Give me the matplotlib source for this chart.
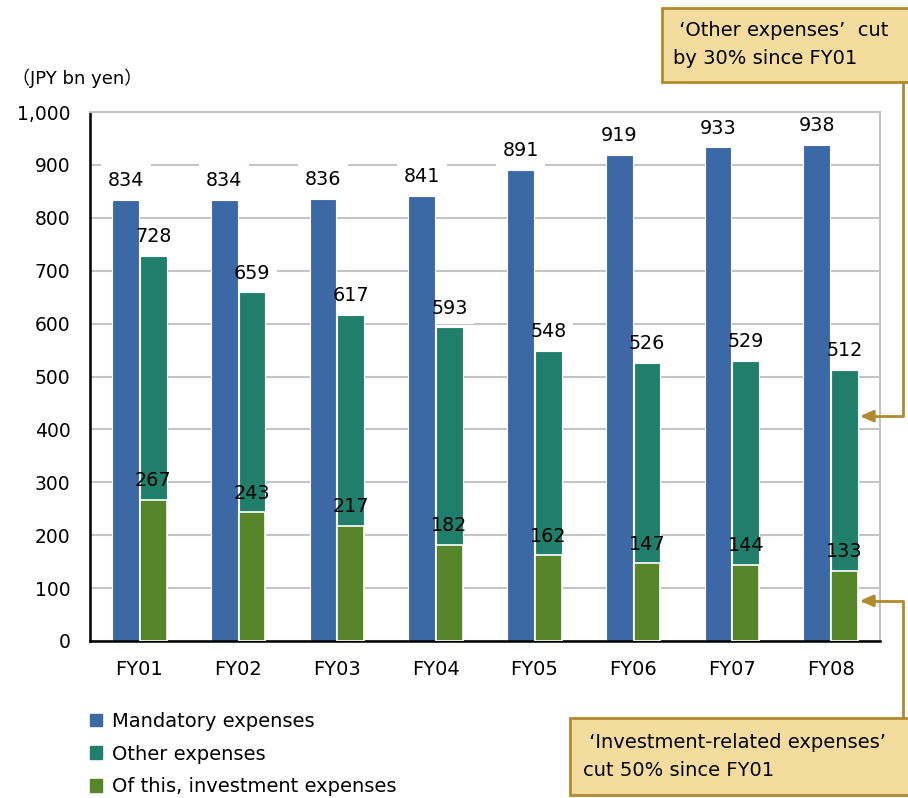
import matplotlib
matplotlib.use("Agg")
import matplotlib.pyplot as plt
import numpy as np
from matplotlib.patches import Patch, Rectangle

plt.rcParams['font.family'] = ['DejaVu Sans', 'Noto Sans CJK JP']

# data (JPY bn)
years = ["FY01", "FY02", "FY03", "FY04", "FY05", "FY06", "FY07", "FY08"]
mandatory = [834, 834, 836, 841, 891, 919, 933, 938]
other = [728, 659, 617, 593, 548, 526, 529, 512]
investment = [267, 243, 217, 182, 162, 147, 144, 133]

c_blue = "#3D68A6"
c_teal = "#1F7F6B"
c_green = "#57852A"
c_box = "#F3DC9E"
c_gold = "#B08A2E"

W, H = 908, 798
fig = plt.figure(figsize=(W / 100, H / 100), dpi=100)
ax = fig.add_axes([90 / W, 1 - 641 / H, 790 / W, 529 / H])

x = np.arange(len(years))
w = 0.27
off = 0.14

ax.bar(x - off, mandatory, w, color=c_blue, edgecolor="white", linewidth=0.8, zorder=2)
ax.bar(x + off, other, w, color=c_teal, edgecolor="white", linewidth=0.8, zorder=2)
ax.bar(x + off, investment, w, color=c_green, edgecolor="white", linewidth=1.2, zorder=3)

lab = dict(fontsize=13.8, ha="center", va="bottom", textcoords="offset points", xytext=(0, 7))
box = dict(facecolor="white", edgecolor="none", boxstyle="square,pad=0.35")
for i in range(len(years)):
    for xx, v in ((x[i] - off, mandatory[i]), (x[i] + off, other[i])):
        # white backing behind the label (under the bars), then the label on top
        ax.annotate(str(v), (xx, v), color="none", bbox=box, zorder=1.5, **lab)
        ax.annotate(str(v), (xx, v), zorder=5, **lab)
    ax.annotate(str(investment[i]), (x[i] + off, investment[i]), zorder=5, **lab)

ax.set_xlim(-0.5, len(years) - 0.5)
ax.set_ylim(0, 1000)
ax.set_yticks(range(0, 1001, 100))
ax.set_yticklabels([f"{v:,}" for v in range(0, 1001, 100)], fontsize=13.5)
ax.set_xticks(x)
ax.set_xticklabels(years, fontsize=14)
ax.tick_params(length=0)
ax.tick_params(axis="y", pad=14)
ax.tick_params(axis="x", pad=14)

ax.yaxis.grid(True, color="#C4C4C4", linewidth=1.5)
ax.set_axisbelow(True)
ax.spines["left"].set_linewidth(1.8)
ax.spines["bottom"].set_linewidth(1.8)
for s in ("right", "top"):
    ax.spines[s].set_color("#C4C4C4")
    ax.spines[s].set_linewidth(1.5)

fig.text(12 / W, 1 - 78 / H, "（JPY bn yen）", fontsize=13, va="center", ha="left")

# legend
handles = [Patch(color=c_blue), Patch(color=c_teal), Patch(color=c_green)]
labels = ["Mandatory expenses", "Other expenses", "Of this, investment expenses"]
fig.legend(handles, labels, loc="upper left", bbox_to_anchor=(90 / W, 1 - 712 / H),
           frameon=False, fontsize=14, handlelength=0.62, handleheight=0.62,
           handletextpad=0.5, labelspacing=0.7, borderaxespad=0, borderpad=0)

# callout boxes
fig.add_artist(Rectangle((662 / W, 1 - 82 / H), 250 / W, 74 / H, transform=fig.transFigure,
                         facecolor=c_box, edgecolor=c_gold, linewidth=2))
fig.text(673 / W, 1 - 45 / H, " ‘Other expenses’  cut\nby 30% since FY01",
         fontsize=14, ha="left", va="center", linespacing=1.6)
fig.add_artist(Rectangle((570 / W, 1 - 795 / H), 345 / W, 77 / H, transform=fig.transFigure,
                         facecolor=c_box, edgecolor=c_gold, linewidth=2))
fig.text(583 / W, 1 - 757 / H, " ‘Investment-related expenses’\ncut 50% since FY01",
         fontsize=14, ha="left", va="center", linespacing=1.6)

arrow = dict(arrowstyle="-|>,head_length=0.8,head_width=0.35", color=c_gold, linewidth=2,
             connectionstyle="angle,angleA=-90,angleB=0,rad=0", shrinkA=0, shrinkB=0)
ax.annotate("", xy=(len(years) - 1 + off + w / 2 + 0.02, 425), xycoords="data",
            xytext=(903 / W, 1 - 82 / H), textcoords="figure fraction",
            arrowprops=arrow, annotation_clip=False)
arrow2 = dict(arrow, connectionstyle="angle,angleA=90,angleB=0,rad=0")
ax.annotate("", xy=(len(years) - 1 + off + w / 2 + 0.02, 76), xycoords="data",
            xytext=(903 / W, 1 - 718 / H), textcoords="figure fraction",
            arrowprops=arrow2, annotation_clip=False)

fig.savefig("out.png", dpi=100)
